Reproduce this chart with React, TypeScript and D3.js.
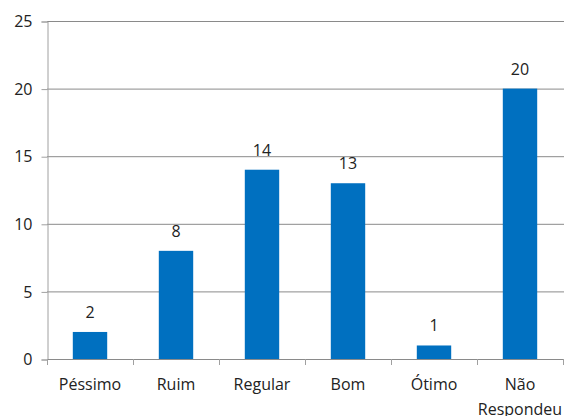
import React, { useEffect, useRef } from 'react';
import * as d3 from 'd3';

const categories = ['Péssimo', 'Ruim', 'Regular', 'Bom', 'Ótimo', 'Não Respondeu'];
const values = [2, 8, 14, 13, 1, 20];
const yTicks = [0, 5, 10, 15, 20, 25];

const App: React.FC = () => {
  const ref = useRef<SVGSVGElement>(null);

  useEffect(() => {
    const width = 564;
    const height = 416;
    const margin = { top: 21, right: 1, bottom: 57, left: 47 };
    const svg = d3.select(ref.current);
    svg.selectAll('*').remove();

    const font = 'Open Sans, Noto Sans, sans-serif';
    const textColor = '#222';

    const x = d3.scaleBand()
      .domain(categories)
      .range([margin.left, width - margin.right])
      .paddingInner(0.6)
      .paddingOuter(0.3);
    const y = d3.scaleLinear()
      .domain([0, 25])
      .range([height - margin.bottom, margin.top]);

    // gridlines
    svg.append('g')
      .selectAll('line')
      .data(yTicks.filter(d => d > 0))
      .join('line')
      .attr('x1', margin.left)
      .attr('x2', width)
      .attr('y1', d => y(d) + 0.5)
      .attr('y2', d => y(d) + 0.5)
      .attr('stroke', '#8a8a8a')
      .attr('stroke-width', 1);

    // y axis
    const yAxis = svg.append('g')
      .attr('transform', `translate(${margin.left + 0.5},0.5)`)
      .call(d3.axisLeft(y).tickValues(yTicks).tickSize(6).tickPadding(9));
    yAxis.select('.domain').attr('stroke', '#a0a0a0');
    yAxis.selectAll('.tick line').attr('stroke', '#a0a0a0');
    yAxis.selectAll('.tick text')
      .attr('font-family', font)
      .attr('font-size', 16)
      .attr('fill', textColor);

    // bars
    svg.append('g')
      .selectAll('rect')
      .data(values)
      .join('rect')
      .attr('x', (d, i) => x(categories[i]) || 0)
      .attr('y', d => y(d))
      .attr('width', x.bandwidth())
      .attr('height', d => y(0) - y(d))
      .attr('fill', '#0070c0');

    // value labels
    svg.append('g')
      .selectAll('text')
      .data(values)
      .join('text')
      .attr('x', (d, i) => (x(categories[i]) || 0) + x.bandwidth() / 2)
      .attr('y', d => y(d) - 14)
      .attr('text-anchor', 'middle')
      .attr('font-family', font)
      .attr('font-size', 16)
      .attr('fill', textColor)
      .text(d => d);

    // x axis
    const step = x.step();
    const xAxisG = svg.append('g');
    xAxisG.append('line')
      .attr('x1', margin.left)
      .attr('x2', width)
      .attr('y1', y(0) + 0.5)
      .attr('y2', y(0) + 0.5)
      .attr('stroke', '#8a8a8a');
    xAxisG.selectAll('line.tk')
      .data(d3.range(categories.length + 1))
      .join('line')
      .attr('class', 'tk')
      .attr('x1', i => margin.left + i * step + 0.5)
      .attr('x2', i => margin.left + i * step + 0.5)
      .attr('y1', y(0))
      .attr('y2', y(0) + 6)
      .attr('stroke', '#a0a0a0');

    const labels = xAxisG.selectAll('text')
      .data(categories)
      .join('text')
      .attr('x', d => (x(d) || 0) + x.bandwidth() / 2)
      .attr('y', y(0) + 31)
      .attr('text-anchor', 'middle')
      .attr('font-family', font)
      .attr('font-size', 16)
      .attr('fill', textColor);
    labels.each(function (d) {
      const words = d.split(' ');
      const t = d3.select(this);
      words.forEach((w, i) => {
        t.append('tspan')
          .attr('x', (x(d) || 0) + x.bandwidth() / 2)
          .attr('dy', i === 0 ? 0 : 25)
          .text(w);
      });
    });
  }, []);

  return <svg ref={ref} width={564} height={416} style={{ position: 'absolute', left: 0, top: 0 }} />;
};

export default App;
